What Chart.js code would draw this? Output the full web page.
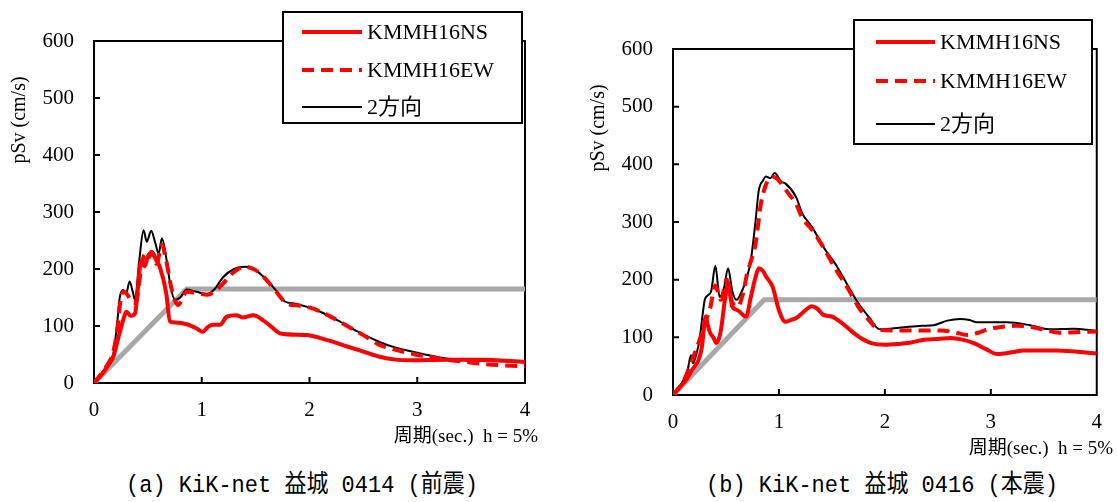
<!DOCTYPE html>
<html>
<head>
<meta charset="utf-8">
<script src="https://cdn.jsdelivr.net/npm/chart.js@4.4.0/dist/chart.umd.min.js"></script>
<style>
  body { margin: 0; background: #fff; width: 1117px; height: 502px; position: relative; overflow: hidden; }
  .panel { position: absolute; top: 0; }
  .caption { position: absolute; top: 465px; font-size: 22px; font-family: "Liberation Mono", "Noto Sans CJK JP", monospace; color: #000; white-space: nowrap; transform: translateX(-50%) scaleY(1.12); }
</style>
</head>
<body>
<div class="panel" style="left:0;width:560px;height:460px"><canvas id="chartA" width="560" height="460"></canvas></div>
<div class="panel" style="left:580px;width:537px;height:460px"><canvas id="chartB" width="537" height="460"></canvas></div>
<div class="caption" style="left:302px">(a) KiK-net 益城 0414 (前震)</div>
<div class="caption" style="left:882px">(b) KiK-net 益城 0416 (本震)</div>

<script>
// tick values
const periodTicks = [0, 1, 2, 3, 4];
const pSvTicks = [0, 100, 200, 300, 400, 500, 600];
const seriesNames = ["KMMH16NS", "KMMH16EW", "2方向"];

// design spectrum (grey)
const designT = [0, 0.86, 4];
const designSv = [0, 165, 165];

// (a) 0414 foreshock
const tA_NS = [0, 0.05, 0.1, 0.15, 0.18, 0.22, 0.27, 0.30, 0.34, 0.38, 0.44, 0.47, 0.50, 0.535, 0.58, 0.61, 0.67, 0.705, 0.75, 0.86, 0.95, 1.01, 1.06, 1.11, 1.17, 1.23, 1.32, 1.38, 1.48, 1.57, 1.65, 1.73, 1.97, 2.15, 2.35, 2.5, 2.65, 2.8, 2.95, 3.27, 3.58, 4.0];
const svA_NS = [0, 10, 22, 36, 46, 75, 110, 125, 118, 122, 215, 205, 222, 230, 215, 204, 158, 108, 106, 103, 96, 90, 99, 102, 102, 116, 119, 115, 119, 110, 98, 87, 84, 76, 64, 55, 46, 41, 40, 41, 41, 37];

const tA_EW = [0, 0.05, 0.1, 0.15, 0.18, 0.22, 0.25, 0.28, 0.31, 0.34, 0.37, 0.40, 0.44, 0.47, 0.50, 0.535, 0.58, 0.63, 0.67, 0.72, 0.78, 0.86, 0.95, 1.05, 1.12, 1.20, 1.30, 1.40, 1.50, 1.60, 1.70, 1.79, 1.90, 2.04, 2.2, 2.35, 2.5, 2.65, 2.8, 2.96, 3.1, 3.27, 3.45, 3.58, 3.8, 4.0];
const svA_EW = [0, 12, 25, 40, 55, 100, 150, 160, 155, 146, 140, 150, 205, 225, 218, 230, 209, 242, 215, 165, 137, 160, 158, 155, 160, 175, 195, 204, 198, 181, 158, 139, 136, 130, 116, 100, 84, 67, 58, 51, 46, 41, 37, 34, 31, 29];

const tA_2D = [0, 0.05, 0.1, 0.15, 0.18, 0.21, 0.24, 0.27, 0.30, 0.33, 0.36, 0.38, 0.42, 0.46, 0.49, 0.53, 0.57, 0.60, 0.63, 0.67, 0.71, 0.75, 0.80, 0.86, 0.95, 1.05, 1.12, 1.20, 1.30, 1.40, 1.50, 1.60, 1.70, 1.77, 1.87, 1.97, 2.10, 2.28, 2.45, 2.65, 2.80, 2.96, 3.1, 3.27, 3.45, 3.58, 3.8, 4.0];
const svA_2D = [0, 12, 25, 40, 52, 95, 151, 163, 158, 178, 160, 146, 215, 268, 248, 267, 245, 227, 254, 220, 170, 146, 150, 164, 160, 156, 165, 186, 200, 204, 198, 181, 160, 143, 139, 134, 125, 108, 90, 72, 62, 55, 49, 43, 40, 39, 38, 37];

// (b) 0416 mainshock
const tB_NS = [0, 0.065, 0.12, 0.19, 0.24, 0.27, 0.31, 0.33, 0.35, 0.38, 0.41, 0.45, 0.49, 0.52, 0.56, 0.61, 0.69, 0.735, 0.78, 0.81, 0.85, 0.88, 0.94, 1.0, 1.06, 1.11, 1.16, 1.22, 1.31, 1.36, 1.42, 1.50, 1.60, 1.69, 1.78, 1.87, 2.0, 2.15, 2.25, 2.37, 2.5, 2.62, 2.73, 2.84, 2.95, 3.06, 3.2, 3.31, 3.62, 4.0];
const svB_NS = [0, 14, 25, 46, 60, 80, 136, 120, 108, 100, 90, 110, 165, 194, 153, 147, 136, 170, 205, 220, 215, 205, 188, 147, 127, 130, 133, 142, 154, 150, 139, 136, 124, 110, 98, 90, 87, 89, 91, 96, 97, 99, 96, 90, 80, 71, 74, 77, 77, 72];

const tB_EW = [0, 0.1, 0.2, 0.25, 0.30, 0.35, 0.40, 0.45, 0.51, 0.55, 0.61, 0.66, 0.70, 0.74, 0.78, 0.83, 0.89, 0.95, 1.0, 1.04, 1.10, 1.16, 1.22, 1.31, 1.40, 1.53, 1.65, 1.75, 1.85, 1.95, 2.1, 2.21, 2.37, 2.53, 2.65, 2.78, 2.88, 2.99, 3.1, 3.24, 3.35, 3.46, 3.65, 3.8, 4.0];
const svB_EW = [0, 24, 70, 95, 124, 150, 190, 165, 200, 165, 153, 175, 211, 235, 263, 332, 370, 378, 372, 362, 347, 332, 307, 287, 262, 220, 185, 153, 130, 113, 112, 112, 112, 112, 109, 104, 108, 115, 118, 120, 119, 115, 108, 109, 110];

const tB_2D = [0, 0.05, 0.10, 0.14, 0.17, 0.19, 0.22, 0.25, 0.28, 0.30, 0.33, 0.36, 0.40, 0.44, 0.48, 0.52, 0.56, 0.60, 0.65, 0.69, 0.735, 0.78, 0.81, 0.85, 0.876, 0.92, 0.96, 1.02, 1.06, 1.16, 1.22, 1.31, 1.44, 1.53, 1.65, 1.75, 1.85, 1.95, 2.05, 2.21, 2.35, 2.46, 2.59, 2.71, 2.80, 2.87, 3.0, 3.15, 3.37, 3.55, 3.78, 4.0];
const svB_2D = [0, 12, 26, 45, 69, 55, 70, 95, 140, 165, 173, 180, 224, 170, 185, 220, 180, 165, 180, 199, 234, 303, 355, 372, 379, 376, 385, 370, 367, 344, 315, 292, 251, 228, 190, 159, 135, 114, 115, 118, 120, 121, 129, 132, 130, 126, 126, 126, 121, 114, 115, 111];

const RED = "#ff0000";
const GREY = "#a8a8a8";
const SERIF = "'Liberation Serif', 'Noto Sans CJK JP', serif";

function pts(t, v) {
  return t.map((x, i) => ({ x: x, y: v[i] }));
}

// frame around the plot + inward tick marks
const framePlugin = {
  id: "frame",
  beforeDatasetsDraw(chart) {
    const { ctx, chartArea: a, scales } = chart;
    ctx.save();
    ctx.strokeStyle = "#000";
    ctx.lineWidth = 2;
    ctx.strokeRect(a.left, a.top, a.right - a.left, a.bottom - a.top);
    ctx.beginPath();
    pSvTicks.slice(1, -1).forEach((v) => {
      const py = scales.y.getPixelForValue(v);
      ctx.moveTo(a.left, py);
      ctx.lineTo(a.left + 6, py);
    });
    periodTicks.slice(1, -1).forEach((t) => {
      const px = scales.x.getPixelForValue(t);
      ctx.moveTo(px, a.bottom);
      ctx.lineTo(px, a.bottom - 6);
    });
    ctx.stroke();
    ctx.restore();
  },
};

// axis titles and boxed legend
const panelPlugin = {
  id: "panel",
  afterDraw(chart, args, opts) {
    const ctx = chart.ctx;
    ctx.save();
    ctx.fillStyle = "#000";

    // y title
    ctx.save();
    ctx.translate(opts.yTitle.x, opts.yTitle.y);
    ctx.rotate(-Math.PI / 2);
    ctx.font = "20px " + SERIF;
    ctx.textAlign = "center";
    ctx.textBaseline = "middle";
    ctx.fillText("pSv (cm/s)", 0, 0);
    ctx.restore();

    // x title
    ctx.font = "19px " + SERIF;
    ctx.textAlign = "right";
    ctx.textBaseline = "middle";
    ctx.fillText("周期(sec.)  h = 5%", opts.xTitle.x, opts.xTitle.y);

    // legend
    const L = opts.legend;
    ctx.fillStyle = "#fff";
    ctx.fillRect(L.x, L.y, L.w, L.h);
    ctx.strokeStyle = "#000";
    ctx.lineWidth = 2;
    ctx.strokeRect(L.x, L.y, L.w, L.h);
    chart.data.datasets.forEach((ds, i) => {
      if (!ds.label) return;
      const ry = L.rows[i];
      ctx.beginPath();
      ctx.strokeStyle = ds.borderColor;
      ctx.lineWidth = ds.borderWidth;
      ctx.setLineDash(ds.borderDash || []);
      ctx.moveTo(L.x0, ry);
      ctx.lineTo(L.x1, ry);
      ctx.stroke();
      ctx.setLineDash([]);
      ctx.fillStyle = "#000";
      ctx.font = "22px " + SERIF;
      ctx.textAlign = "left";
      ctx.textBaseline = "middle";
      ctx.fillText(ds.label, L.tx, ry + 1);
    });
    ctx.restore();
  },
};

function makeChart(id, series, geo) {
  const datasets = [
    { label: seriesNames[0], data: pts(series[0][0], series[0][1]), borderColor: RED, borderWidth: 4 },
    { label: seriesNames[1], data: pts(series[1][0], series[1][1]), borderColor: RED, borderWidth: 4, borderDash: [12, 7] },
    { label: seriesNames[2], data: pts(series[2][0], series[2][1]), borderColor: "#000", borderWidth: 2 },
    { label: "", data: pts(designT, designSv), borderColor: GREY, borderWidth: 5, cubicInterpolationMode: "default", tension: 0 },
  ];
  datasets.forEach((d) => {
    d.pointRadius = 0;
    d.fill = false;
    if (!d.cubicInterpolationMode) d.cubicInterpolationMode = "monotone";
  });

  return new Chart(document.getElementById(id), {
    type: "line",
    data: { datasets: datasets },
    options: {
      responsive: false,
      animation: false,
      layout: { padding: { top: geo.top, right: geo.right, left: 0, bottom: 0 } },
      plugins: {
        legend: { display: false },
        tooltip: { enabled: false },
        panel: { yTitle: geo.yTitle, xTitle: geo.xTitle, legend: geo.legend },
      },
      scales: {
        x: {
          type: "linear",
          min: 0,
          max: 4,
          afterFit: (s) => { s.height = geo.xh; },
          grid: { display: false, drawTicks: false },
          border: { display: false },
          ticks: {
            stepSize: 1,
            padding: 15,
            color: "#000",
            font: { family: SERIF, size: 21 },
            maxRotation: 0,
          },
        },
        y: {
          min: 0,
          max: 600,
          afterFit: (s) => { s.width = geo.yw; },
          grid: { display: false, drawTicks: false },
          border: { display: false },
          ticks: {
            stepSize: 100,
            padding: 20,
            color: "#000",
            font: { family: SERIF, size: 21 },
          },
        },
      },
    },
    plugins: [framePlugin, panelPlugin],
  });
}

makeChart("chartA",
  [[tA_NS, svA_NS], [tA_EW, svA_EW], [tA_2D, svA_2D]],
  {
    top: 41, right: 35, yw: 94, xh: 77,
    yTitle: { x: 20, y: 120 },
    xTitle: { x: 538, y: 437 },
    legend: { x: 283, y: 12, w: 239, h: 111, rows: [32, 70, 107], x0: 302, x1: 362, tx: 367 },
  });

makeChart("chartB",
  [[tB_NS, svB_NS], [tB_EW, svB_EW], [tB_2D, svB_2D]],
  {
    top: 49, right: 16, yw: 93, xh: 65,
    yTitle: { x: 19, y: 128 },
    xTitle: { x: 533, y: 449 },
    legend: { x: 274, y: 20, w: 238, h: 124, rows: [42, 81, 124], x0: 296, x1: 355, tx: 360 },
  });
</script>
</body>
</html>
